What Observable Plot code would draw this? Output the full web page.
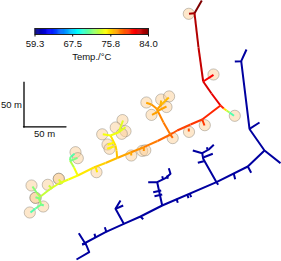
<!DOCTYPE html>
<html><head><meta charset="utf-8">
<script src="https://cdn.jsdelivr.net/npm/d3@7"></script>
<script src="https://cdn.jsdelivr.net/npm/@observablehq/plot@0.6"></script>
<style>
html,body{margin:0;padding:0;background:#fff;overflow:hidden}
#wrap{position:relative;width:281px;height:261px}
#wrap svg{position:absolute;left:0;top:0;background:transparent;font-family:"Liberation Sans",Arial,sans-serif}
</style></head><body><div id="wrap"></div>
<script>
const tempDomain = [59.3, 84];
const tempTicks = [59.3, 67.5, 75.8, 84.0];
const jet = ["#00007f","#0000ff","#007fff","#00ffff","#7fff7f","#ffff00","#ff7f00","#ff0000","#7f0000"];

// hot network: vertices as [x, y, temperature]
const hotBranches = [
  [[201.3,0,84],[194,12.7,83]],
  [[194,12.7,83],[188.5,13.3,81]],
  [[194,12.7,82.8],[198,47,82.3],[202.7,81,81.8],[211,93,81.4],[220,105,80.8]],
  [[202.7,81,81],[213,74.3,80]],
  [[220,105,80],[223.3,108,75.5],[226,110,73],[229,112,70.5],[233.5,115.3,67]],
  [[220,105,80],[201.7,119,79.6],[190,124,79.3],[176.7,130,78.9],[170,134,78.4],[157,140.5,77.9],[143.3,146.7,77.4],[130,152,76.9],[116.7,157.5,76.3],[105,162.5,75.8],[93.3,167,75.3],[77.3,175,74.6],[68,179,74.2],[58.3,183,73.9],[49,189,73.3],[40,196,72.6]],
  [[201.7,119,79.6],[204,125,79]],
  [[188.3,128,79],[188.3,131,78.5]],
  [[170,134.3,78.4],[172.3,137.3,78]],
  [[143.3,146.7,77.4],[143.3,150.5,77]],
  [[130.7,151.7,76.9],[130.7,155,76.5]],
  [[95,166.5,75.3],[96.7,171.7,75]],
  [[170,134.3,78],[163,122,77.7],[156,108,77.4]],
  [[156,108,77.3],[151,104,76.9],[145.7,102.3,76.6]],
  [[156,109.5,77],[161,104,76.4],[168.3,97,75.6]],
  [[160,105,76.5],[160.7,100,76]],
  [[157,110.5,77],[166,106,76]],
  [[158,111,77],[151.5,114.3,75.9]],
  [[116.7,157.7,76.2],[116,150,75.8],[115,145,75.4],[110,135,74.8]],
  [[110,135,74.5],[102.3,133.7,73.3]],
  [[110,135,74.4],[118.3,131.7,74],[125,126.7,73.4]],
  [[118.3,131.7,74],[122.5,120,73.2]],
  [[113,142.3,74.8],[107,144.3,74]],
  [[113.3,146,75],[106.7,148.3,74.2]],
  [[77.3,175,74.5],[73.5,167,73],[69.5,160,71.5]],
  [[69.5,160,71.5],[70,156.5,70.6],[74,153.3,70]],
  [[69.5,160.5,71.5],[77,157.3,70.6]],
  [[61.7,183.3,73.8],[58.3,179,73]],
  [[51.7,188.3,73.4],[48.3,185,72.6]],
  [[40,197,72.6],[36,192,71.8],[32,186,71]],
  [[35,196.7,71.6],[40,198.3,72]],
  [[38.5,198.3,72.2],[40.7,204,71.2],[35,208,70.5],[30,212,70]],
  [[40.7,204,71.2],[43.3,205,71]]
];

// cold network: vertices as [x, y]
const coldBranches = [
  [[246,49],[240.7,60.7],[234.3,61]],
  [[240.7,60.7],[249,128.3],[250,130],[264,150],[280,162.7]],
  [[249,128.3],[259,122]],
  [[264,150],[247.3,166],[216,181.7],[161.7,205],[140,216],[123.3,223.3],[105,231.7],[81.7,244]],
  [[247.3,166],[250.7,172.3]],
  [[233.3,173.3],[234.7,178.7]],
  [[216,181.7],[217.7,184.3]],
  [[216,181.7],[202.7,158.3],[201.7,152.7],[192.3,150]],
  [[201.7,152.7],[208.3,149],[213.3,144.3]],
  [[203.3,156.7],[212.3,153.3]],
  [[203.3,160.7],[197.3,162.3]],
  [[206.7,149],[206.7,146.7]],
  [[161.7,205],[156.7,181.7],[147.7,181.7]],
  [[156.7,181.7],[165,177.7],[170,173.3],[168.3,167.7]],
  [[161.7,175.7],[162.7,179.3]],
  [[166.7,175],[167.3,178.3]],
  [[160.7,190],[152.7,191.7]],
  [[161.7,194],[154,195.7]],
  [[176,198.3],[177.3,202.3]],
  [[186.7,194],[188,197.7]],
  [[189.3,193.3],[190.7,196.7]],
  [[140,216],[142.7,218.7]],
  [[123.3,223.3],[115,208.3],[120,200]],
  [[115,208.3],[122.7,205]],
  [[95,237.3],[94,233.3]],
  [[106,231.7],[104.3,226.7]],
  [[78.3,232.7],[86,245],[88.7,251.7],[76,259]],
  [[81.7,244],[86,243]]
];
const coldTemp = 60.1;

const buildingX = [188.3,213,234.3,145.9,160.7,168.6,166,151,204.3,172.2,188.5,141.7,144.8,130.8,122,115.2,125,121.3,101.7,107,109,96,75,77.3,47.3,58.3,58.3,31,35,35,42.7,29.3];
const buildingY = [13.3,74,115.3,102,99,95.9,106.5,114.4,124.7,137.6,131.4,150.4,149.8,155,119.6,127,130.7,133.3,133.8,144,148.3,171.7,151.7,157.7,184.3,178.3,178.3,185,197.3,197.3,206,212];

const scaleBarV = [[23.5,82],[23.5,126.3]];
const scaleBarH = [[23,126.3],[65.5,126.3]];
const scaleLabelV = [{x:21.5,y:104,text:"50 m"}];
const scaleLabelH = [{x:44,y:133.5,text:"50 m"}];

const jetFn = d3.piecewise(d3.interpolateRgb, jet);
const colorOpt = {type:"linear", domain: tempDomain, interpolate: jetFn};

const rows = [];
hotBranches.forEach((b,i)=>b.forEach(p=>rows.push({id:"h"+i,x:p[0],y:p[1],t:p[2]})));
coldBranches.forEach((b,i)=>b.forEach(p=>rows.push({id:"c"+i,x:p[0],y:p[1],t:coldTemp})));
const buildings = buildingX.map((x,i)=>({x,y:buildingY[i]}));

const map = Plot.plot({
  width:281,height:261,margin:0,
  x:{domain:[0,281],range:[0,281],axis:null},
  y:{domain:[0,261],range:[0,261],axis:null},
  color:colorOpt,
  marks:[
    Plot.dot(buildings,{x:"x",y:"y",r:5.6,fill:"#fbcf98",fillOpacity:0.5,stroke:"#7c7566",strokeOpacity:0.42,strokeWidth:1}),
    Plot.line(rows,{x:"x",y:"y",z:"id",stroke:"t",strokeWidth:2,strokeLinecap:"butt",strokeLinejoin:"round"}),
    Plot.line(scaleBarV,{x:d=>d[0],y:d=>d[1],stroke:"#000",strokeWidth:1.3,strokeLinecap:"square"}),
    Plot.line(scaleBarH,{x:d=>d[0],y:d=>d[1],stroke:"#000",strokeWidth:1.3}),
    Plot.text(scaleLabelV,{x:"x",y:"y",text:"text",textAnchor:"end",fontSize:9.5,fill:"#111"}),
    Plot.text(scaleLabelH,{x:"x",y:"y",text:"text",textAnchor:"middle",fontSize:9.5,fill:"#111"})
  ]
});

const ramp = d3.range(59.3,84,0.2);
const bar = Plot.plot({
  width:281,height:72,marginLeft:34.5,marginRight:133,marginTop:28,marginBottom:38,
  x:{domain:tempDomain,axis:null},
  color:colorOpt,
  marks:[
    Plot.rect(ramp,{x1:d=>d,x2:d=>Math.min(d+0.3,84),fill:d=>d}),
    Plot.frame({stroke:"#222",strokeWidth:1}),
    Plot.axisX({ticks:tempTicks,tickFormat:".1f",tickSize:2.5,tickPadding:3,fontSize:9.5,label:"Temp./°C",labelAnchor:"center",labelArrow:"none",labelOffset:25.5,color:"#111"})
  ]
});
const wrap=document.getElementById("wrap");
wrap.appendChild(map);
wrap.appendChild(bar);
</script></body></html>
